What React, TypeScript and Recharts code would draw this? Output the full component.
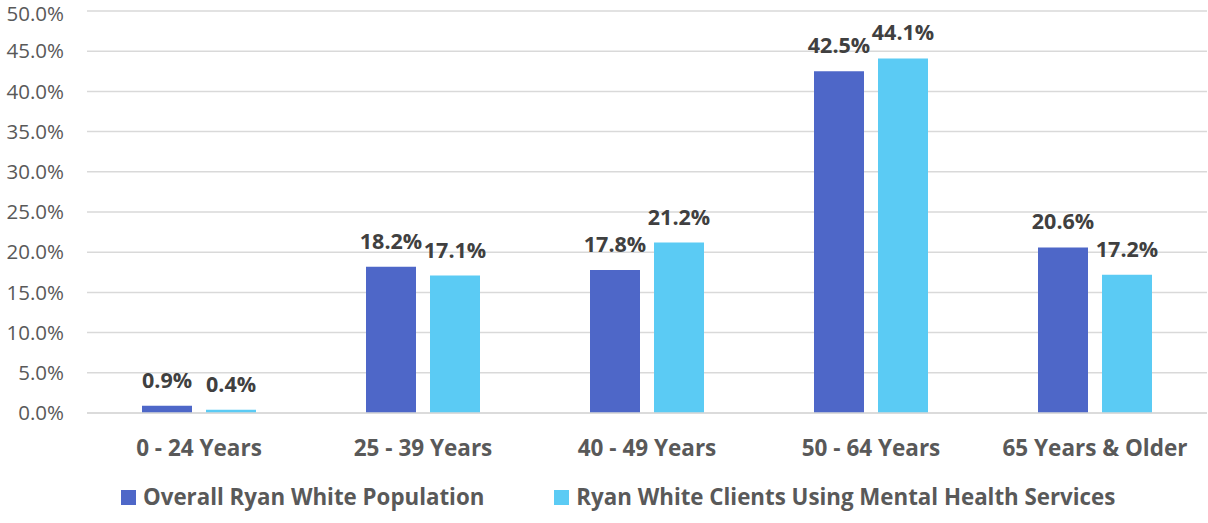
import { Bar, BarChart, CartesianGrid, LabelList, XAxis, YAxis } from "recharts";

const CATEGORIES = ["0 - 24 Years", "25 - 39 Years", "40 - 49 Years", "50 - 64 Years", "65 Years & Older"];
const OVERALL = [0.9, 18.2, 17.8, 42.5, 20.6];
const MENTAL_HEALTH = [0.4, 17.1, 21.2, 44.1, 17.2];
const Y_TICKS = [0, 5, 10, 15, 20, 25, 30, 35, 40, 45, 50];

const SERIES = [
  { key: "overall", name: "Overall Ryan White Population", color: "#4E67C8" },
  { key: "mental", name: "Ryan White Clients Using Mental Health Services", color: "#5BCBF4" },
];

const data = CATEGORIES.map((cat, i) => ({
  cat,
  overall: OVERALL[i],
  mental: MENTAL_HEALTH[i],
}));

const FONT = '"Open Sans", sans-serif';
const pct = (v: number) => `${v.toFixed(1)}%`;

export default function App() {
  return (
    <div
      style={{
        position: "absolute",
        left: 0,
        top: 0,
        width: 1208,
        height: 523,
        background: "#fff",
        fontFamily: FONT,
      }}
    >
      <BarChart
        width={1208}
        height={523}
        data={data}
        margin={{ top: 11, right: 1, left: 0, bottom: 63 }}
        barSize={50}
        barGap={14}
      >
        <CartesianGrid vertical={false} stroke="#d9d9d9" strokeWidth={1.5} />
        <XAxis
          dataKey="cat"
          interval={0}
          height={47}
          tickLine={false}
          tickSize={0}
          tickMargin={27}
          axisLine={{ stroke: "#d9d9d9", strokeWidth: 1.5 }}
          tick={{ fill: "#595959", fontSize: 22.5, fontWeight: 700, fontFamily: FONT }}
        />
        <YAxis
          domain={[0, 50]}
          ticks={Y_TICKS}
          width={87}
          axisLine={false}
          tickLine={false}
          tickSize={0}
          tickMargin={23}
          tickFormatter={pct}
          tick={{ fill: "#595959", fontSize: 20.5, fontFamily: FONT }}
        />
        {SERIES.map((s) => (
          <Bar key={s.key} dataKey={s.key} name={s.name} fill={s.color} isAnimationActive={false}>
            <LabelList
              dataKey={s.key}
              position="top"
              offset={18}
              formatter={(v: any) => pct(Number(v))}
              style={{ fill: "#404040", fontSize: 21.5, fontWeight: 700, fontFamily: FONT }}
            />
          </Bar>
        ))}
      </BarChart>
      <div
        style={{
          position: "absolute",
          left: 121,
          top: 483,
          display: "flex",
          alignItems: "center",
          gap: 70,
        }}
      >
        {SERIES.map((s) => (
          <div key={s.key} style={{ display: "flex", alignItems: "center", gap: 7 }}>
            <span style={{ width: 15, height: 15, background: s.color, display: "inline-block" }} />
            <span style={{ color: "#595959", fontSize: 22.3, fontWeight: 700, lineHeight: "28px" }}>
              {s.name}
            </span>
          </div>
        ))}
      </div>
    </div>
  );
}
